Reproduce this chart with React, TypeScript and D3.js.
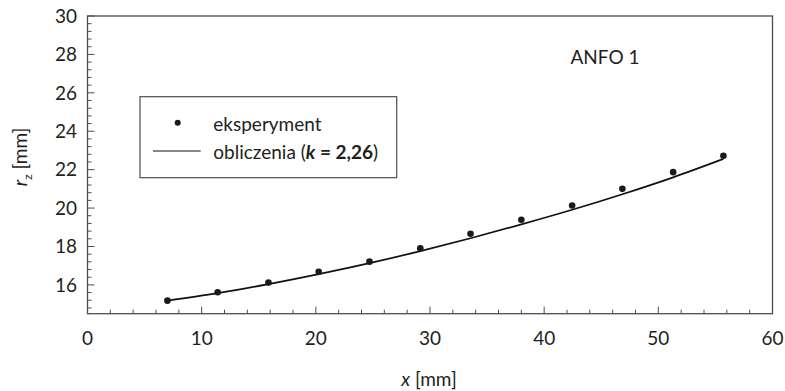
import { useEffect } from 'react'
import * as d3 from 'd3'

// measured points (eksperyment)
const expX = [7.0, 11.4, 15.85, 20.25, 24.7, 29.15, 33.55, 38.0, 42.45, 46.85, 51.3, 55.7]
const expY = [15.18, 15.62, 16.12, 16.68, 17.21, 17.91, 18.66, 19.39, 20.13, 21.0, 21.87, 22.72]

// calculated curve (obliczenia, k = 2,26)
const calcX = [7.0, 11.4, 15.85, 20.25, 24.7, 29.15, 33.55, 38.0, 42.45, 46.85, 51.3, 55.7]
const calcY = [15.18, 15.57, 16.04, 16.56, 17.13, 17.76, 18.43, 19.15, 19.91, 20.72, 21.6, 22.56]

const xTicks = [0, 10, 20, 30, 40, 50, 60]
const yTicks = [16, 18, 20, 22, 24, 26, 28, 30]

const W = 785
const H = 391
const M = { left: 87.5, right: 772.5, top: 16, bottom: 313.7 }
const FONT = 'Lato, "Open Sans", sans-serif'
const FS = 19
const TEXT = '#231f20'
const AXIS = '#4d4d4d'

export default function App() {
  useEffect(() => {
    document.body.style.margin = '0'
  }, [])

  const x = d3.scaleLinear().domain([0, 60]).range([M.left, M.right])
  const y = d3.scaleLinear().domain([14.5, 30]).range([M.bottom, M.top])

  const xMinor = d3.range(0, 60.001, 2)
  const yMinor = d3.range(14.8, 30.001, 0.4).filter((v) => Math.abs(v - Math.round(v / 2) * 2) > 0.01)

  const line = d3
    .line<number>()
    .x((_, i) => x(calcX[i]))
    .y((v) => y(v))
    .curve(d3.curveMonotoneX)

  return (
    <svg width={W} height={H} style={{ position: 'absolute', left: 0, top: 0, display: 'block' }}>
      <rect width={W} height={H} fill="#fff" />

      {/* frame */}
      <rect
        x={M.left}
        y={M.top}
        width={M.right - M.left}
        height={M.bottom - M.top}
        fill="none"
        stroke={AXIS}
        strokeWidth={1.3}
      />

      {/* x ticks */}
      {xMinor.map((v) => {
        const major = Math.abs(v % 10) < 0.001
        return (
          <line
            key={'xt' + v}
            x1={x(v)}
            x2={x(v)}
            y1={M.bottom}
            y2={M.bottom - (major ? 7 : 4)}
            stroke={AXIS}
            strokeWidth={1}
          />
        )
      })}
      {xTicks.map((v) => (
        <text key={'xl' + v} x={x(v)} y={345} textAnchor="middle" fontFamily={FONT} fontSize={FS} fill={TEXT}>
          {v}
        </text>
      ))}

      {/* y ticks */}
      {yTicks.map((v) => (
        <line key={'ytM' + v} x1={M.left} x2={M.left + 7} y1={y(v)} y2={y(v)} stroke={AXIS} strokeWidth={1} />
      ))}
      {yMinor.map((v) => (
        <line key={'ytm' + v} x1={M.left} x2={M.left + 4} y1={y(v)} y2={y(v)} stroke={AXIS} strokeWidth={1} />
      ))}
      {yTicks.map((v) => (
        <text
          key={'yl' + v}
          x={77}
          y={y(v)}
          dy="0.36em"
          textAnchor="end"
          fontFamily={FONT}
          fontSize={FS}
          fill={TEXT}
        >
          {v}
        </text>
      ))}

      {/* axis titles */}
      <text x={429} y={386} textAnchor="middle" fontFamily={FONT} fontSize={FS} fill={TEXT}>
        <tspan fontStyle="italic">x</tspan> [mm]
      </text>
      <text
        transform={`translate(27, 157) rotate(-90)`}
        textAnchor="middle"
        fontFamily={FONT}
        fontSize={FS}
        fill={TEXT}
      >
        <tspan fontStyle="italic">r</tspan>
        <tspan fontSize={12} dy={5}>z</tspan>
        <tspan dy={-5}> [mm]</tspan>
      </text>

      {/* calculated curve */}
      <path d={line(calcY) ?? ''} fill="none" stroke="#111" strokeWidth={1.7} />

      {/* experiment points */}
      {expX.map((v, i) => (
        <circle key={'p' + i} cx={x(v)} cy={y(expY[i])} r={3.3} fill="#1a1a1a" />
      ))}

      {/* annotation */}
      <text x={605} y={64} textAnchor="middle" fontFamily={FONT} fontSize={FS} fill={TEXT}>
        ANFO 1
      </text>

      {/* legend */}
      <rect x={140} y={96.7} width={256.7} height={81} fill="#fff" stroke={AXIS} strokeWidth={1.2} />
      <circle cx={177.7} cy={122.7} r={3} fill="#1a1a1a" />
      <line x1={153} x2={200.7} y1={151} y2={151} stroke="#111" strokeWidth={1.2} />
      <text x={213.3} y={131} fontFamily={FONT} fontSize={FS} fill={TEXT}>
        eksperyment
      </text>
      <text x={213.3} y={159} fontFamily={FONT} fontSize={FS} fill={TEXT}>
        obliczenia (<tspan fontWeight="bold" fontStyle="italic">k</tspan>
        <tspan fontWeight="bold"> = 2,26</tspan>)
      </text>
    </svg>
  )
}
